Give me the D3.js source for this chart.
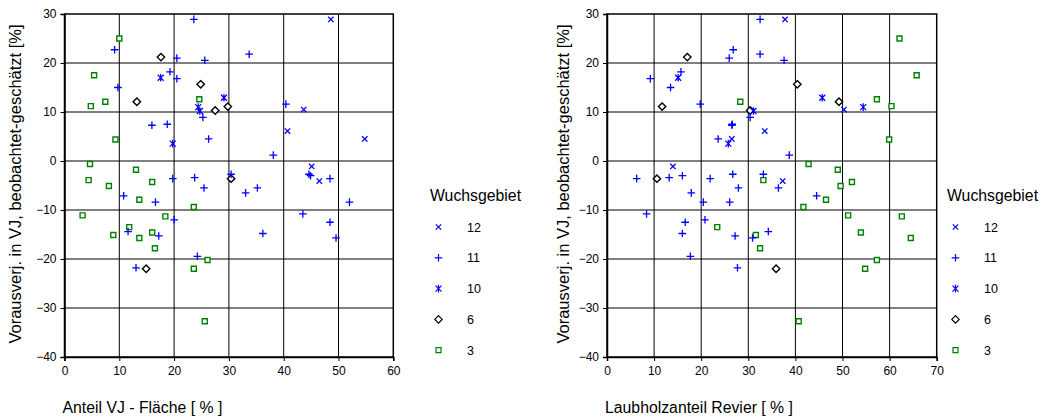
<!DOCTYPE html>
<html><head><meta charset="utf-8">
<script src="https://cdn.jsdelivr.net/npm/d3@7"></script>
<style>
html,body{margin:0;padding:0;background:#fff;}
svg{display:block;font-family:Arial,"Liberation Sans",sans-serif;}
</style></head>
<body>
<svg id="c" width="1042" height="418"></svg>
<script>
// ---- data ----
const groups = ["12", "11", "10", "6", "3"];
const xTicksLeft = [0, 10, 20, 30, 40, 50, 60];
const xTicksRight = [0, 10, 20, 30, 40, 50, 60, 70];
const yTicks = [-40, -30, -20, -10, 0, 10, 20, 30];

// Wuchsgebiet 12
const diff12 = [28.9, 10.5, 6.1, 4.5, -1.1, -4.1];
const vj12   = [48.6, 43.65, 40.7, 54.8, 45.1, 46.5];
const laub12 = [37.8, 50.3, 33.5, 26.5, 14.0, 37.3];
// Wuchsgebiet 11
const diff11 = [28.9, 22.7, 21.0, 20.55, 21.8, 18.2, 16.8, 15.0, 11.6, 8.9, 7.3, 7.5, 4.5, 1.2, -3.6, -3.4, -3.6, -2.7, -2.7, -3.0, -5.5, -5.5, -6.5, -7.1, -8.4, -8.4, -10.8, -12.0, -12.5, -14.4, -14.8, -15.3, -15.7, -19.45, -21.8];
const vj11   = [23.6, 9.15, 20.5, 25.6, 33.7, 19.25, 20.5, 9.75, 40.4, 25.25, 15.95, 18.75, 26.3, 38.1, 19.75, 23.75, 48.45, 30.4, 44.6, 44.9, 25.45, 35.2, 33.05, 10.8, 16.6, 52.0, 43.5, 20.0, 48.45, 11.6, 36.2, 17.2, 49.55, 24.25, 13.05];
const laub11 = [32.5, 26.8, 25.95, 37.6, 32.5, 15.7, 9.2, 13.5, 19.8, 30.4, 26.5, 26.6, 23.6, 38.7, 6.3, 13.2, 21.9, 26.7, 33.2, 16.0, 27.9, 36.4, 17.9, 44.5, 20.45, 26.05, 8.4, 20.8, 16.6, 34.25, 16.0, 27.2, 30.9, 17.7, 27.7];
// Wuchsgebiet 10
const diff10 = [17.0, 11.0, 10.2, 3.55, 12.9];
const vj10   = [17.55, 24.4, 24.7, 19.75, 29.1];
const laub10 = [15.1, 54.4, 31.1, 25.75, 45.7];
// Wuchsgebiet 6
const diff6 = [21.2, 12.1, 15.65, 10.3, 11.1, -3.6, -22.0];
const vj6   = [17.6, 13.2, 24.85, 27.5, 29.8, 30.4, 14.9];
const laub6 = [17.05, 49.25, 40.4, 30.4, 11.7, 10.6, 35.9];
// Wuchsgebiet 3
const diff3 = [25.0, 17.5, 12.1, 11.2, 12.6, 4.4, -0.6, -1.8, -3.9, -5.1, -4.3, -7.9, -11.1, -9.4, -11.3, -13.5, -15.1, -15.7, -14.6, -17.8, -20.2, -22.0, -32.7];
const vj3   = [10.0, 5.4, 7.45, 4.8, 24.6, 9.3, 4.65, 13.05, 4.4, 8.1, 16.0, 13.65, 3.3, 23.6, 18.4, 11.8, 8.9, 13.65, 16.0, 16.5, 26.1, 23.6, 25.6];
const laub3 = [62.1, 65.75, 28.3, 60.4, 57.3, 59.9, 42.8, 49.0, 33.2, 49.6, 52.0, 46.5, 51.2, 41.7, 62.6, 23.4, 31.6, 64.5, 53.9, 32.5, 57.3, 54.8, 40.7];

const yLabel = "Vorausverj. in VJ, beobachtet-geschätzt [%]";
const xLabelLeft = "Anteil VJ - Fläche [ % ]";
const xLabelRight = "Laubholzanteil Revier [ % ]";
const legendTitle = "Wuchsgebiet";

// ---- styles ----
const BLUE = "#0000ff", GREEN = "#008000", BLACK = "#000";
const markerStyle = {
  "12": {shape: "x", color: BLUE},
  "11": {shape: "plus", color: BLUE},
  "10": {shape: "star", color: BLUE},
  "6":  {shape: "diamond", color: BLACK},
  "3":  {shape: "square", color: GREEN}
};
function markerPath(shape) {
  switch (shape) {
    case "x": { const a = 2.7; return `M${-a},${-a}L${a},${a}M${-a},${a}L${a},${-a}`; }
    case "plus": { const a = 3.8; return `M${-a},0L${a},0M0,${-a}L0,${a}`; }
    case "star": { const a = 3.0, b = 3.8; return `M${-a},${-a}L${a},${a}M${-a},${a}L${a},${-a}M0,${-b}L0,${b}`; }
    case "diamond": { const a = 3.7; return `M0,${-a}L${a},0L0,${a}L${-a},0Z`; }
    case "square": { const a = 2.5; return `M${-a},${-a}H${a}V${a}H${-a}Z`; }
  }
}

const svg = d3.select("#c");

function drawChart(opt) {
  const g = svg.append("g");
  const x = d3.scaleLinear().domain(opt.xDomain).range([opt.left, opt.right]);
  const y = d3.scaleLinear().domain([-40, 30]).range([357, 14]);

  // grid
  g.append("g").selectAll("line").data(opt.xTicks.slice(1, -1)).join("line")
    .attr("x1", d => x(d)).attr("x2", d => x(d)).attr("y1", y(30)).attr("y2", y(-40))
    .attr("stroke", "#000").attr("stroke-width", 1);
  g.append("g").selectAll("line").data(yTicks.slice(1, -1)).join("line")
    .attr("x1", x(opt.xDomain[0])).attr("x2", x(opt.xDomain[1])).attr("y1", d => y(d)).attr("y2", d => y(d))
    .attr("stroke", "#000").attr("stroke-width", 1);

  // axes
  const xAxis = d3.axisBottom(x).tickValues(opt.xTicks).tickSize(4).tickPadding(5).tickFormat(d3.format("d"));
  const yAxis = d3.axisLeft(y).tickValues(yTicks).tickSize(4).tickPadding(4).tickFormat(d3.format("d"));
  const gx = g.append("g").attr("transform", `translate(0,${y(-40)})`).call(xAxis);
  const gy = g.append("g").attr("transform", `translate(${x(opt.xDomain[0])},0)`).call(yAxis);
  [gx, gy].forEach(a => {
    a.select(".domain").attr("stroke", "#000").attr("stroke-width", 1.5);
    a.selectAll(".tick line").attr("stroke", "#000");
    a.selectAll("text").attr("font-size", 12).attr("fill", "#000")
      .attr("font-family", "Arial, 'Liberation Sans', sans-serif");
  });
  // frame
  g.append("rect").attr("x", x(opt.xDomain[0])).attr("y", y(30))
    .attr("width", x(opt.xDomain[1]) - x(opt.xDomain[0])).attr("height", y(-40) - y(30))
    .attr("fill", "none").attr("stroke", "#000").attr("stroke-width", 1.5);

  // points
  const seriesDefs = [
    {key: "3", xs: opt.data["3"], ys: diff3},
    {key: "6", xs: opt.data["6"], ys: diff6},
    {key: "10", xs: opt.data["10"], ys: diff10},
    {key: "11", xs: opt.data["11"], ys: diff11},
    {key: "12", xs: opt.data["12"], ys: diff12}
  ];
  seriesDefs.forEach(s => {
    const st = markerStyle[s.key];
    const pts = s.xs.map((v, i) => [v, s.ys[i]]);
    g.append("g").selectAll("path").data(pts).join("path")
      .attr("transform", d => `translate(${x(d[0])},${y(d[1])})`)
      .attr("d", markerPath(st.shape))
      .attr("fill", (st.shape === "diamond" || st.shape === "square") ? "#fff" : "none")
      .attr("stroke", st.color)
      .attr("stroke-width", st.shape === "square" || st.shape === "diamond" ? 1.4 : 1.3);
  });

  // y label
  g.append("text")
    .attr("transform", `translate(${opt.yLabelX},${184}) rotate(-90)`)
    .attr("text-anchor", "middle").attr("font-size", 16.5).attr("fill", "#000")
    .text(yLabel);
  // x label
  g.append("text").attr("x", opt.left - 2).attr("y", 413)
    .attr("font-size", 15.8).attr("fill", "#000").text(opt.xLabel);

  // legend
  const lg = g.append("g");
  lg.append("text").attr("x", opt.legendX).attr("y", 200.5).attr("font-size", 15.8).attr("fill", "#000").text(legendTitle);
  groups.forEach((k, i) => {
    const cy = 227 + i * 30.8;
    const st = markerStyle[k];
    lg.append("path").attr("transform", `translate(${opt.legendX + 8.5},${cy})`)
      .attr("d", markerPath(st.shape))
      .attr("fill", (st.shape === "diamond" || st.shape === "square") ? "#fff" : "none")
      .attr("stroke", st.color).attr("stroke-width", 1.2);
    lg.append("text").attr("x", opt.legendX + 37).attr("y", cy + 4.5)
      .attr("font-size", 12.5).attr("fill", "#000").text(k);
  });
}

drawChart({
  left: 64.5, right: 393.3, xDomain: [0, 60], xTicks: xTicksLeft,
  data: {"12": vj12, "11": vj11, "10": vj10, "6": vj6, "3": vj3},
  yLabelX: 21, xLabel: xLabelLeft, legendX: 430
});
drawChart({
  left: 607, right: 936.7, xDomain: [0, 70], xTicks: xTicksRight,
  data: {"12": laub12, "11": laub11, "10": laub10, "6": laub6, "3": laub3},
  yLabelX: 569, xLabel: xLabelRight, legendX: 947
});
</script>
</body></html>
